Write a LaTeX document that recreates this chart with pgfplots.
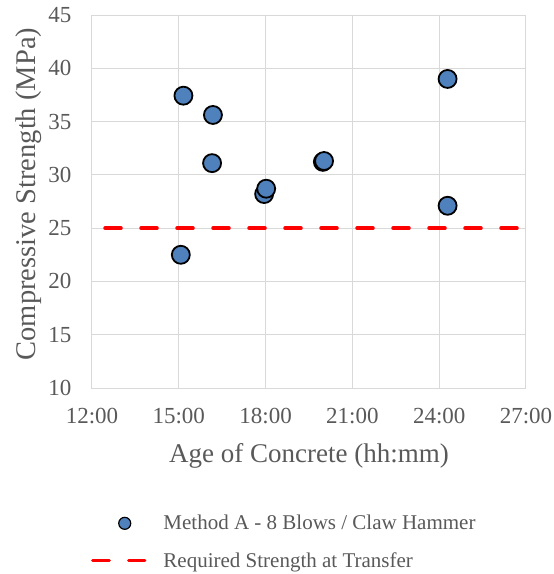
\documentclass[border=0pt]{standalone}
\usepackage{fontspec}
\setmainfont{Liberation Serif}
\usepackage{pgfplots}
\pgfplotsset{compat=1.18}
\definecolor{ptblue}{RGB}{79,129,189}
\definecolor{gridgray}{RGB}{217,217,217}
\definecolor{txtgray}{RGB}{89,89,89}
\pgfplotsset{
  legdot/.style={legend image code/.code={\draw[##1, mark size=6pt, every mark/.append style={line width=1.2pt}] plot coordinates {(31pt,0pt)}; \path (-2pt,0pt) (53pt,0pt);}},
  legline/.style={legend image code/.code={\draw[##1, dash pattern=on 16.5pt off 19.5pt] (-1pt,0pt) -- (51pt,0pt); \path (-2pt,0pt) (53pt,0pt);}},
}
\begin{document}
\begin{tikzpicture}
\path[use as bounding box] (-92pt,-186pt) rectangle (462pt,388pt);
\begin{axis}[
  at={(0pt,0pt)}, anchor=south west,
  scale only axis, width=434pt, height=373pt,
  xmin=12, xmax=27, ymin=10, ymax=45,
  xtick={12,15,18,21,24,27},
  xticklabels={12:00,15:00,18:00,21:00,24:00,27:00},
  ytick={10,15,...,45},
  grid=major, major grid style={gridgray, line width=1pt},
  axis line style={gridgray, line width=1pt},
  tick style={draw=none},
  /pgf/number format/assume math mode=true,
  ticklabel style={font=\fontsize{23}{26}\selectfont, text=txtgray},
  xticklabel style={yshift=-17pt},
  yticklabel style={xshift=-17pt},
  xlabel={Age of Concrete (hh:mm)},
  ylabel={Compressive Strength (MPa)},
  label style={font=\fontsize{27}{30}\selectfont, text=txtgray},
  xlabel style={at={(axis description cs:0.5,-0.182)}, anchor=center},
  ylabel style={at={(axis description cs:-0.147,0.52)}, anchor=center, font=\fontsize{28.5}{31}\selectfont},
  legend style={at={(-0.012,-0.33)}, anchor=north west, draw=none, fill=none,
    font=\fontsize{21}{24}\selectfont, text=txtgray, row sep=17pt,
    /tikz/every odd column/.append style={column sep=13pt}},
  legend cell align=left,
]
\addplot[only marks, mark=*, mark size=9pt, mark options={fill=ptblue, draw=black, line width=1.8pt}, legdot]
  coordinates {
  (15.16,37.43) (16.18,35.62) (16.15,31.1) (17.95,28.2) (18.02,28.7)
  (19.98,31.22) (20.02,31.3) (24.29,39.0) (24.29,27.1) (15.07,22.5)
  };
\addlegendentry{Method A - 8 Blows / Claw Hammer}
\addplot[red, line width=3.5pt, line cap=round, dash pattern=on 16pt off 20pt, legline]
  coordinates {(12.45,25) (26.85,25)};
\addlegendentry{Required Strength at Transfer}
\end{axis}
\end{tikzpicture}
\end{document}
